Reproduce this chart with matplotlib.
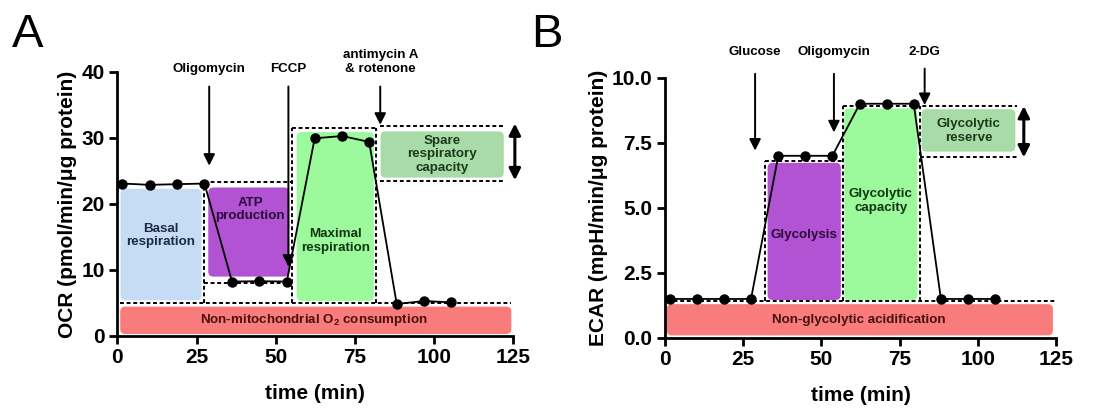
import matplotlib
matplotlib.use("Agg")
import matplotlib.pyplot as plt
from matplotlib.patches import FancyBboxPatch

plt.rcParams['font.family'] = ['Liberation Sans', 'DejaVu Sans']
plt.rcParams['font.weight'] = 'bold'
plt.rcParams['mathtext.fontset'] = 'custom'
plt.rcParams['mathtext.rm'] = 'Liberation Sans:bold'
plt.rcParams['mathtext.bf'] = 'Liberation Sans:bold'

# measurement times (min)
time = [1.6, 10.2, 18.8, 27.5, 36.2, 44.8, 53.5, 62.3, 71.0, 79.5, 88.2, 96.9, 105.4]
# OCR (pmol/min/ug protein)
ocr = [23.1, 22.9, 23.0, 23.1, 8.25, 8.3, 8.25, 29.95, 30.3, 29.4, 4.85, 5.3, 5.1]
# ECAR (mpH/min/ug protein)
ecar = [1.5, 1.5, 1.5, 1.5, 7.0, 7.0, 7.0, 9.0, 9.0, 9.0, 1.5, 1.5, 1.5]

xticks = [0, 25, 50, 75, 100, 125]
ocr_ticks = [0, 10, 20, 30, 40]
ecar_ticks = [0.0, 2.5, 5.0, 7.5, 10.0]

# injections: label, x, text y, arrow top, arrow tip
ocr_inject = [("Oligomycin", 29.0, 39.5, 37.8, 25.8),
              ("FCCP", 54.0, 39.5, 37.8, 10.5),
              ("antimycin A\n& rotenone", 83.0, 39.5, 37.8, 32.0)]
ecar_inject = [("Glucose", 28.8, 10.75, 10.15, 7.2),
               ("Oligomycin", 54.0, 10.75, 10.15, 7.9),
               ("2-DG", 83.0, 10.75, 10.35, 8.95)]

# shaded regions: x0, x1, y0, y1, face, text, text colour, text x, text y
ocr_regions = [
    (0.9, 124.4, 0.3, 4.45, '#f97c7c', 'Non-mitochondrial O$_2$ consumption', '#4a1010', 62, 2.4),
    (1.0, 26.6, 5.4, 22.3, '#c6dcf4', 'Basal\nrespiration', '#1c2a45', 13.8, 15.2),
    (28.7, 54.3, 9.0, 22.5, '#b253d3', 'ATP\nproduction', '#2a0a3a', 42.0, 19.2),
    (56.6, 81.0, 5.3, 30.9, '#9cf99c', 'Maximal\nrespiration', '#123512', 68.8, 14.4),
    (83.1, 122.0, 24.0, 31.0, '#a9dba9', 'Spare\nrespiratory\ncapacity', '#1a3a1a', 102.5, 27.5),
]
ecar_regions = [
    (0.6, 124.0, 0.1, 1.3, '#f97c7c', 'Non-glycolytic acidification', '#4a1010', 62, 0.7),
    (32.8, 56.2, 1.46, 6.73, '#b253d3', 'Glycolysis', '#2a0a3a', 44.5, 3.95),
    (57.3, 80.7, 1.45, 8.82, '#9cf99c', 'Glycolytic\ncapacity', '#123512', 69.0, 5.26),
    (82.0, 112.0, 7.16, 8.79, '#a9dba9', 'Glycolytic\nreserve', '#1a3a1a', 97.0, 7.95),
]

# dashed guide lines: (xs, ys)
ocr_dashes = [
    ([0.9, 124.4], [4.95, 4.95]),
    ([27.3, 27.3], [4.95, 23.3]),
    ([27.3, 55.1], [23.3, 23.3]),
    ([27.3, 55.1], [8.1, 8.1]),
    ([55.1, 55.1], [4.95, 31.5]),
    ([55.1, 81.6], [31.5, 31.5]),
    ([81.6, 81.6], [4.95, 31.5]),
    ([82.9, 122.3], [31.8, 31.8]),
    ([82.9, 122.3], [23.5, 23.5]),
]
ecar_dashes = [
    ([0.6, 125.0], [1.42, 1.42]),
    ([32.0, 32.0], [1.42, 6.81]),
    ([32.0, 56.8], [6.81, 6.81]),
    ([56.8, 56.8], [1.42, 8.91]),
    ([56.8, 112.4], [8.91, 8.91]),
    ([81.5, 81.5], [1.42, 8.91]),
    ([81.5, 112.4], [6.94, 6.94]),
]


def style_axes(ax, yticks, ylim, ylabel, fmt):
    ax.set_xlim(0, 125)
    ax.set_ylim(*ylim)
    ax.set_xticks(xticks)
    ax.set_yticks(yticks)
    ax.set_yticklabels([fmt.format(v) for v in yticks])
    for s in ['top', 'right']:
        ax.spines[s].set_visible(False)
    for s in ['left', 'bottom']:
        ax.spines[s].set_linewidth(2)
    ax.tick_params(width=2, length=6, labelsize=15, pad=3)
    for lab in ax.get_xticklabels() + ax.get_yticklabels():
        lab.set_fontweight('bold')
    ax.set_xlabel('time (min)', fontsize=15, fontweight='bold', labelpad=12)
    ax.set_ylabel(ylabel, fontsize=15, fontweight='bold', labelpad=3)


def draw_panel(ax, y, regions, dashes, inject, aspect, dbl):
    for x0, x1, y0, y1, fc, txt, tc, tx, ty in regions:
        box = FancyBboxPatch((x0, y0), x1 - x0, y1 - y0,
                             boxstyle='round,pad=0,rounding_size=1.6',
                             mutation_aspect=aspect, fc=fc, ec='none', zorder=1)
        ax.add_patch(box)
        ax.text(tx, ty, txt, ha='center', va='center', fontsize=9.6,
                fontweight='bold', color=tc, zorder=5, linespacing=1.15)
    for xs, ys in dashes:
        ax.plot(xs, ys, color='black', lw=1.4, ls=(0, (2.0, 1.4)), zorder=3,
                clip_on=False)
    ax.plot(time, y, color='black', lw=1.3, marker='o', ms=6.5, zorder=4,
            clip_on=False)
    for lab, x, ty, y0, y1 in inject:
        ax.text(x, ty, lab, ha='center', va='bottom', fontsize=9.6,
                fontweight='bold', clip_on=False)
        ax.annotate('', xy=(x, y1), xytext=(x, y0), annotation_clip=False,
                    arrowprops=dict(arrowstyle='-|>', color='black', lw=1.4,
                                    mutation_scale=17, shrinkA=0, shrinkB=0))
    dx, dy0, dy1 = dbl
    ax.annotate('', xy=(dx, dy1), xytext=(dx, dy0), annotation_clip=False,
                arrowprops=dict(arrowstyle='<|-|>', color='black', lw=2.2,
                                mutation_scale=17, shrinkA=0, shrinkB=0))


fig = plt.figure(figsize=(11.05, 4.09), dpi=100)
axA = fig.add_axes([0.1062, 0.1785, 0.3583, 0.6455])
axB = fig.add_axes([0.6018, 0.1736, 0.3539, 0.6364])

style_axes(axA, ocr_ticks, (0, 40), 'OCR (pmol/min/\u03bcg protein)', '{:g}')
style_axes(axB, ecar_ticks, (0, 10), 'ECAR (mpH/min/\u03bcg protein)', '{:.1f}')

draw_panel(axA, ocr, ocr_regions, ocr_dashes, ocr_inject, 3.17 / 6.6,
           (125.5, 23.6, 32.2))
draw_panel(axB, ecar, ecar_regions, ecar_dashes, ecar_inject, 3.13 / 26.03,
           (114.7, 6.94, 8.91))

fig.text(0.025, 0.915, 'A', fontsize=34, fontweight='normal', ha='center', va='center')
fig.text(0.495, 0.915, 'B', fontsize=34, fontweight='normal', ha='center', va='center')

fig.savefig('out.png', dpi=100, facecolor='white')
